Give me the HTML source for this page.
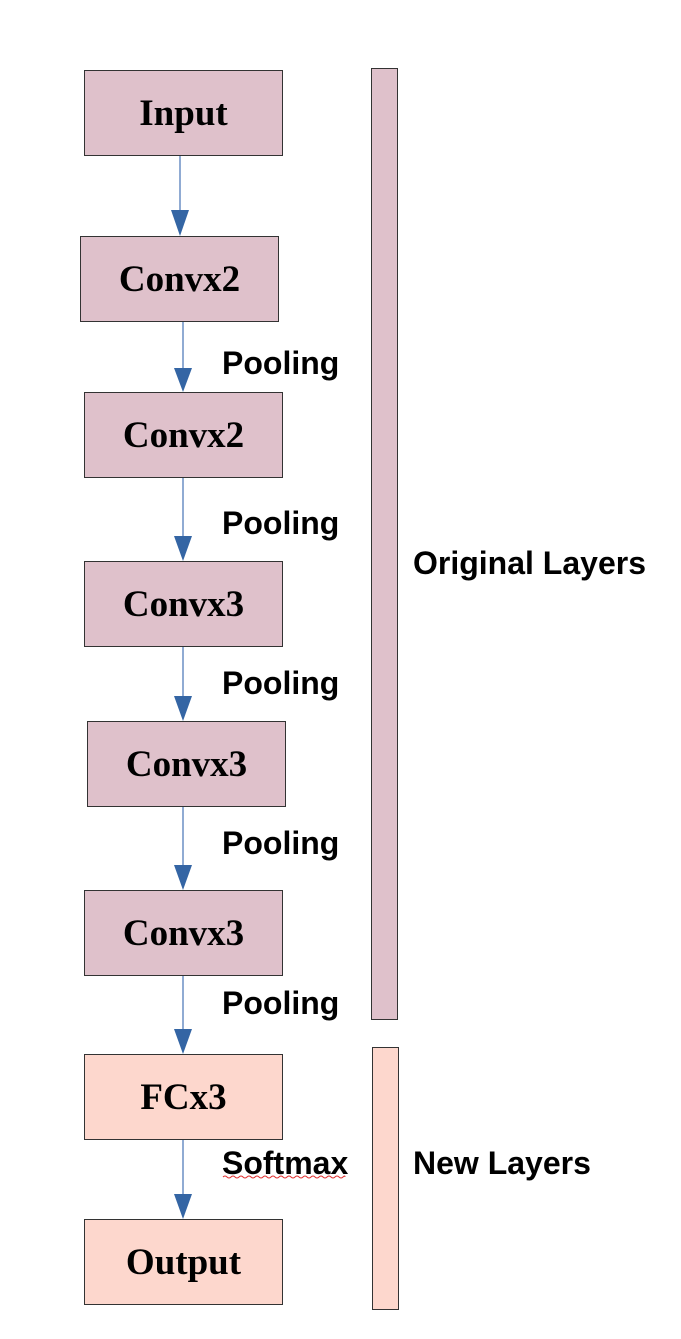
<!DOCTYPE html>
<html><head><style>
body{margin:0;width:681px;height:1339px;background:#fff;position:relative;overflow:hidden}
.b{position:absolute;width:199px;height:86px;border:1px solid #333;box-sizing:border-box;display:flex;align-items:center;justify-content:center;font:bold 37px "Liberation Serif",serif;color:#000}
.p{background:#dfc1cb}.n{background:#fdd7cd}
.l{position:absolute;font:bold 32px "Liberation Sans",sans-serif;color:#000;line-height:1}
</style></head><body>
<svg width="681" height="1339" style="position:absolute;left:0;top:0">
<g stroke="#6b8fc4" stroke-width="1.5">
<line x1="180" y1="156" x2="180" y2="212"/>
<line x1="183" y1="322" x2="183" y2="370"/>
<line x1="183" y1="478" x2="183" y2="538"/>
<line x1="183" y1="647" x2="183" y2="698"/>
<line x1="183" y1="807" x2="183" y2="867"/>
<line x1="183" y1="976" x2="183" y2="1031"/>
<line x1="183" y1="1140" x2="183" y2="1196"/>
</g>
<g fill="#3465a4">
<polygon points="171,210 189,210 180,236"/>
<polygon points="174,368 192,368 183,392"/>
<polygon points="174,536 192,536 183,561"/>
<polygon points="174,696 192,696 183,721"/>
<polygon points="174,865 192,865 183,890"/>
<polygon points="174,1029 192,1029 183,1054"/>
<polygon points="174,1194 192,1194 183,1219"/>
</g>
<path d="M223 1177 q2 -2 4 0 t4 0 t4 0 t4 0 t4 0 t4 0 t4 0 t4 0 t4 0 t4 0 t4 0 t4 0 t4 0 t4 0 t4 0 t4 0 t4 0 t4 0 t4 0 t4 0 t4 0 t4 0 t4 0 t4 0 t4 0 t4 0 t4 0 t4 0 t4 0 t4 0 t2 0" stroke="#e03030" fill="none" stroke-width="1"/>
</svg>
<div class="b p" style="left:84px;top:70px">Input</div>
<div class="b p" style="left:80px;top:236px">Convx2</div>
<div class="b p" style="left:84px;top:392px">Convx2</div>
<div class="b p" style="left:84px;top:561px">Convx3</div>
<div class="b p" style="left:87px;top:721px">Convx3</div>
<div class="b p" style="left:84px;top:890px">Convx3</div>
<div class="b n" style="left:84px;top:1054px">FCx3</div>
<div class="b n" style="left:84px;top:1219px">Output</div>
<div class="b p" style="left:371px;top:68px;width:27px;height:952px"></div>
<div class="b n" style="left:372px;top:1047px;width:27px;height:263px"></div>
<div class="l" style="left:222px;top:347px">Pooling</div>
<div class="l" style="left:222px;top:507px">Pooling</div>
<div class="l" style="left:222px;top:667px">Pooling</div>
<div class="l" style="left:222px;top:827px">Pooling</div>
<div class="l" style="left:222px;top:987px">Pooling</div>
<div class="l" style="left:222px;top:1147px">Softmax</div>
<div class="l" style="left:413px;top:547px">Original Layers</div>
<div class="l" style="left:413px;top:1147px">New Layers</div>
</body></html>
